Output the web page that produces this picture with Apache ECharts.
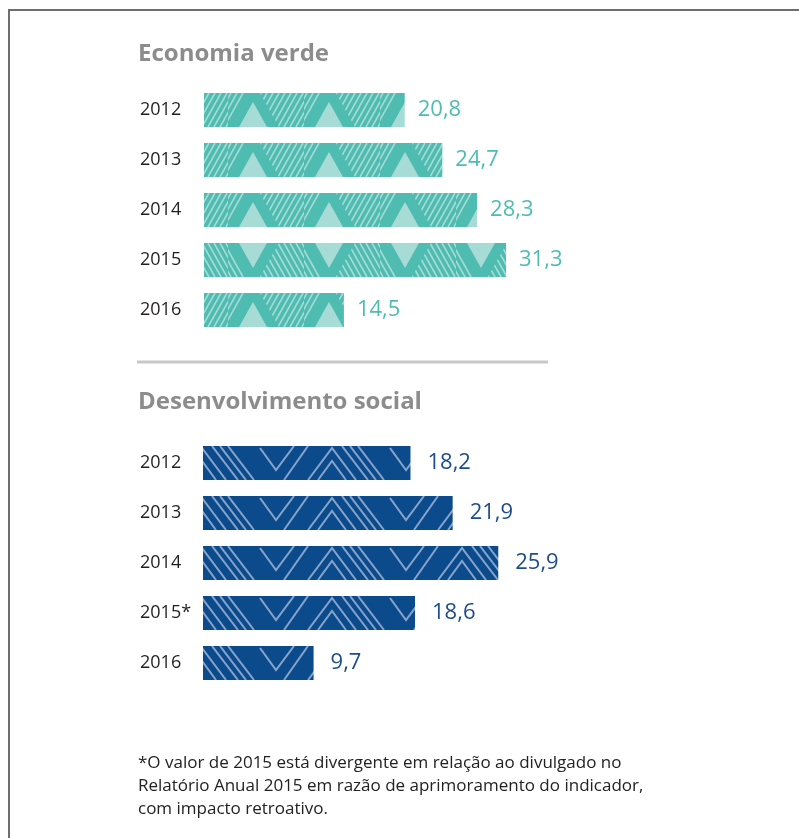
<!DOCTYPE html>
<html>
<head>
<meta charset="utf-8">
<script src="https://cdn.jsdelivr.net/npm/echarts@6/dist/echarts.min.js"></script>
<style>
  html, body { margin: 0; padding: 0; background: #ffffff; }
  #chart { width: 799px; height: 838px; }
</style>
</head>
<body>
<div id="chart"></div>
<script>
// Economia verde
const verdeYears = ['2012', '2013', '2014', '2015', '2016'];
const verdeValues = [20.8, 24.7, 28.3, 31.3, 14.5];
// Desenvolvimento social
const socialYears = ['2012', '2013', '2014', '2015*', '2016'];
const socialValues = [18.2, 21.9, 25.9, 18.6, 9.7];

const FONT = '"Open Sans", "Noto Sans", sans-serif';
const TEAL = '#4fbcb2';
const TEAL_LIGHT = '#a7dcd6';
const BLUE = '#0b4a8b';
const BLUE_LINE = '#86a3cb';

// Builds a repeating tile; the bar band (34px tall) is drawn at vertical offset yOff
// and wrapped so every bar row lines up with the band.
function makeTile(w, h, yOff, base, draw) {
  const c = document.createElement('canvas');
  c.width = w; c.height = h;
  const ctx = c.getContext('2d');
  ctx.fillStyle = base;
  ctx.fillRect(0, 0, w, h);
  [yOff, yOff - h].forEach(function (dy) {
    ctx.save();
    ctx.translate(0, dy);
    ctx.beginPath();
    ctx.rect(0, 0, w, 34);
    ctx.clip();
    draw(ctx, w);
    ctx.restore();
  });
  return c;
}

// Hatched stripes with a light triangle framed by a solid band
function drawVerde(flip) {
  return function (ctx, w) {
    const cx = 25;
    const fy = function (y) { return flip ? 34 - y : y; };
    ctx.strokeStyle = TEAL_LIGHT;
    ctx.lineWidth = 1.6;
    for (let x = -40; x < w + 40; x += 6) {
      ctx.beginPath();
      if (flip) { ctx.moveTo(x, 0); ctx.lineTo(x + 19, 34); }
      else { ctx.moveTo(x, 34); ctx.lineTo(x + 19, 0); }
      ctx.stroke();
    }
    [-w, 0, w].forEach(function (ox) {
      const c0 = cx + ox;
      ctx.fillStyle = TEAL;
      ctx.beginPath();
      ctx.moveTo(c0, fy(-12));
      ctx.lineTo(c0 - 26, fy(34));
      ctx.lineTo(c0 + 26, fy(34));
      ctx.closePath();
      ctx.fill();
      ctx.fillStyle = TEAL_LIGHT;
      ctx.beginPath();
      ctx.moveTo(c0, fy(9));
      ctx.lineTo(c0 - 14, fy(34));
      ctx.lineTo(c0 + 14, fy(34));
      ctx.closePath();
      ctx.fill();
    });
  };
}

// Chevron line work
function drawSocial(ctx, w) {
  ctx.strokeStyle = BLUE_LINE;
  ctx.lineWidth = 2;
  ctx.lineJoin = 'miter';
  const seg = function (pts) {
    ctx.beginPath();
    ctx.moveTo(pts[0][0], pts[0][1]);
    for (let i = 1; i < pts.length; i++) ctx.lineTo(pts[i][0], pts[i][1]);
    ctx.stroke();
  };
  [-w, 0, w].forEach(function (ox) {
    // single V
    seg([[ox + 0, 2], [ox + 16, 24], [ox + 34, 0]]);
    // stray diagonal
    seg([[ox + 24, 34], [ox + 48, 0]]);
    // nested peaks
    seg([[ox + 48, 34], [ox + 72, 2], [ox + 96, 34]]);
    seg([[ox + 58, 34], [ox + 72, 15], [ox + 86, 34]]);
    // parallel falling lines
    seg([[ox + 82, 0], [ox + 108, 34]]);
    seg([[ox + 90, 0], [ox + 116, 34]]);
    seg([[ox + 98, 0], [ox + 124, 34]]);
  });
}

const verdeTile = makeTile(76, 50, 43, TEAL, drawVerde(false));
const verdeTileFlip = makeTile(76, 50, 43, TEAL, drawVerde(true));
const socialTile = makeTile(130, 50, 46, BLUE, drawSocial);

const fmt = function (p) { return String(p.value).replace('.', ','); };

const verdeData = verdeValues.map(function (v, i) {
  return {
    value: v,
    itemStyle: { color: { image: verdeYears[i] === '2015' ? verdeTileFlip : verdeTile, repeat: 'repeat' } }
  };
});
const socialData = socialValues.map(function (v) {
  return { value: v, itemStyle: { color: { image: socialTile, repeat: 'repeat' } } };
});

const yearLabel = function (margin) {
  return {
    show: true, align: 'left', margin: margin,
    color: '#231f20', fontSize: 18, fontFamily: FONT
  };
};

const chart = echarts.init(document.getElementById('chart'), null, { renderer: 'canvas' });
chart.setOption({
  animation: false,
  backgroundColor: '#ffffff',
  title: [
    {
      text: 'Economia verde', left: 133, top: 37,
      textStyle: { color: '#8c8c8c', fontSize: 24, fontWeight: 'bold', fontFamily: FONT }
    },
    {
      text: 'Desenvolvimento social', left: 133, top: 385,
      textStyle: { color: '#8c8c8c', fontSize: 24, fontWeight: 'bold', fontFamily: FONT }
    },
    {
      text: '*O valor de 2015 está divergente em relação ao divulgado no\nRelatório Anual 2015 em razão de aprimoramento do indicador,\ncom impacto retroativo.',
      left: 133, top: 747,
      textStyle: { color: '#222222', fontSize: 17, fontWeight: 'normal', lineHeight: 23, fontFamily: FONT }
    }
  ],
  graphic: [
    { type: 'line', shape: { x1: 8, y1: 10, x2: 799, y2: 10 }, style: { stroke: '#6e6e6e', lineWidth: 2 } },
    { type: 'line', shape: { x1: 9, y1: 10, x2: 9, y2: 838 }, style: { stroke: '#6e6e6e', lineWidth: 2 } },
    { type: 'line', shape: { x1: 137, y1: 362, x2: 548, y2: 362 }, style: { stroke: '#c8c8c8', lineWidth: 3 } }
  ],
  grid: [
    { left: 204, top: 85, width: 386, height: 250 },
    { left: 203, top: 438, width: 342, height: 250 }
  ],
  xAxis: [
    { type: 'value', gridIndex: 0, min: 0, max: 40, show: false },
    { type: 'value', gridIndex: 1, min: 0, max: 30, show: false }
  ],
  yAxis: [
    {
      type: 'category', gridIndex: 0, data: verdeYears, inverse: true,
      axisLine: { show: false }, axisTick: { show: false }, splitLine: { show: false },
      axisLabel: yearLabel(64)
    },
    {
      type: 'category', gridIndex: 1, data: socialYears, inverse: true,
      axisLine: { show: false }, axisTick: { show: false }, splitLine: { show: false },
      axisLabel: yearLabel(63)
    }
  ],
  series: [
    {
      type: 'bar', xAxisIndex: 0, yAxisIndex: 0, barWidth: 34, data: verdeData,
      label: {
        show: true, position: 'right', distance: 13, formatter: fmt,
        color: TEAL, fontSize: 22, fontFamily: FONT
      }
    },
    {
      type: 'bar', xAxisIndex: 1, yAxisIndex: 1, barWidth: 34, data: socialData,
      label: {
        show: true, position: 'right', distance: 17, formatter: fmt,
        color: '#1d4d8c', fontSize: 22, fontFamily: FONT
      }
    }
  ]
});
</script>
</body>
</html>
